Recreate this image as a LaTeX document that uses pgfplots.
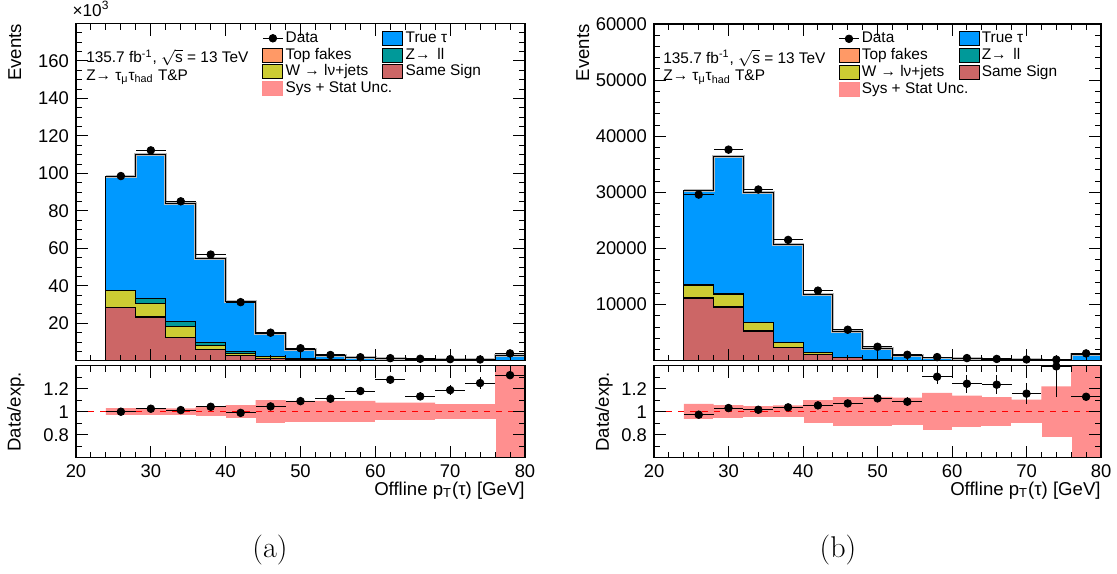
\documentclass[border=0pt]{standalone}
\usepackage{fontspec}
\usepackage{pgfplots}
\usepackage{pgfplotstable}
\pgfplotsset{compat=1.18}
\newfontfamily\hv{Liberation Sans}
\newcommand\tickfont{\hv\fontsize{9.2}{11}\selectfont}
\newcommand\labfont{\hv\fontsize{9.3}{11}\selectfont}
\newcommand\legfont{\hv\fontsize{7.7}{9}\selectfont}
\definecolor{ctau}{HTML}{0099FF}
\definecolor{ctop}{HTML}{FF9966}
\definecolor{cw}{HTML}{CCCC33}
\definecolor{cz}{HTML}{009999}
\definecolor{css}{HTML}{CC6666}
\definecolor{cband}{HTML}{FF8F8F}

% (a) cumulative stack tops, x10^3 events: ss, +top fakes, +W, +Z->ll, +true tau
\pgfplotstableread{
x  ss    tf    w     z     tot
24 28.4  28.7  37.3  37.6  98.3
28 23.1  23.4  30.8  33.4  110.0
32 12.4  12.6  18.5  21.2  83.9
36 6.0   6.15  8.4   9.8   54.4
40 2.8   2.9   3.9   4.8   31.6
44 1.4   1.45  2.1   2.4   14.6
48 0.7   0.73  1.0   1.2   6.2
52 0.35  0.37  0.5   0.6   2.8
56 0.2   0.21  0.3   0.35  1.6
60 0.12  0.13  0.2   0.25  1.1
64 0.08  0.09  0.15  0.18  0.95
68 0.05  0.06  0.1   0.12  0.75
72 0.04  0.05  0.08  0.1   0.58
76 0.2   0.22  0.3   0.35  3.0
80 0.2   0.22  0.3   0.35  3.0
}\stackA
\pgfplotstableread{
x  d
26 98.6
30 112.3
34 85.1
38 56.7
42 31.3
46 15.0
50 6.7
54 3.1
58 1.9
62 1.4
66 1.08
70 0.89
74 0.72
78 3.95
}\dataA
\pgfplotstableread{
x  r      e
26 1.000  0.005
30 1.026  0.005
34 1.014  0.006
38 1.043  0.008
42 0.990  0.010
46 1.046  0.015
50 1.092  0.020
54 1.113  0.025
58 1.180  0.030
62 1.278  0.035
66 1.133  0.035
70 1.188  0.040
74 1.249  0.050
78 1.318  0.025
}\ratioA
\pgfplotstableread{
x  up     dn
24 1.032  0.968
28 1.030  0.970
32 1.030  0.970
36 1.040  0.960
40 1.058  0.942
44 1.100  0.900
48 1.094  0.906
52 1.095  0.905
56 1.094  0.906
60 1.078  0.922
64 1.078  0.922
68 1.065  0.935
72 1.065  0.935
76 1.600  0.400
80 1.600  0.400
}\bandA

% (b)
\pgfplotstableread{
x  ss     tf     w      z      tot
24 11134  11230  13463  13550  30400
28 9582   9660   11851  11920  36448
32 5284   5330   6836   6880   30000
36 2418   2440   3313   3340   20746
40 1045   1055   1522   1540   11851
44 507    512    627    640    5164
48 209    212    260    270    2239
52 100    102    130    135    985
56 60     61     80     85     507
60 40     41     55     58     388
64 30     31     40     42     269
68 20     21     30     32     209
72 15     16     22     24     149
76 60     62     80     85     1164
80 60     62     80     85     1164
}\stackB
\pgfplotstableread{
x  d
26 29610
30 37614
34 30510
38 21534
42 12503
46 5536
50 2499
54 1071
58 661
62 482
66 332
70 242
74 208
78 1315
}\dataB
\pgfplotstableread{
x  r      e
26 0.974  0.008
30 1.032  0.007
34 1.017  0.008
38 1.038  0.010
42 1.055  0.012
46 1.072  0.020
50 1.116  0.030
54 1.087  0.040
58 1.304  0.060
62 1.243  0.077
66 1.235  0.080
70 1.157  0.090
74 1.394  0.270
78 1.130  0.030
}\ratioB
\pgfplotstableread{
x  up     dn
24 1.068  0.932
28 1.058  0.942
32 1.048  0.952
36 1.054  0.946
40 1.100  0.900
44 1.127  0.873
48 1.130  0.870
52 1.123  0.877
56 1.164  0.836
60 1.140  0.860
64 1.126  0.874
68 1.106  0.894
72 1.220  0.780
76 1.600  0.400
80 1.600  0.400
}\bandB

\pgfplotsset{
  rootaxis/.style={scale only axis, axis on top, axis line style={black,line width=0.6pt},
    tick align=inside, major tick length=6pt, minor tick length=3pt,
    every tick/.style={black,line width=0.5pt},
    xmin=20, xmax=80, xtick={20,30,...,80}, minor x tick num=4,
    tick label style={font=\tickfont}, label style={font=\labfont},
    scaled ticks=false},
  boxleg/.style={legend image code/.code={\draw[line width=0.5pt,##1] (0pt,-3.5pt) rectangle (10pt,3.5pt);}},
  fillst/.style={const plot, fill=#1, draw=black, line width=0.5pt, forget plot},
  datamain/.style={only marks, mark=*, mark size=1.9pt, black, forget plot,
    error bars/.cd, x dir=both, x fixed=2, error mark=none, error bar style={line width=0.5pt,black}},
  dataratio/.style={only marks, mark=*, mark size=1.9pt, black, forget plot,
    error bars/.cd, x dir=both, x fixed=2, y dir=both, y explicit, error mark=none, error bar style={line width=0.5pt,black}},
  mylegend/.style={legend columns=2, legend cell align=left,
    legend style={at={(#1,0.981)}, anchor=north west, draw=none, fill=none, inner sep=0pt, font=\legfont,
      nodes={inner xsep=0.8pt, inner ysep=0.4pt, text height=5.6pt, text depth=1.6pt},
      /tikz/every odd column/.append style={column sep=0.3pt},
      /tikz/every even column/.append style={column sep=5.6pt},
      row sep=0.4pt}},
}
\newcommand\legendentries{%
  \addlegendimage{legend image code/.code={\draw[black,line width=0.6pt] (0pt,0pt) -- (10pt,0pt); \fill[black] (5pt,0pt) circle (1.9pt);}}
  \addlegendentry{\makebox[42pt][l]{Data}}
  \addlegendimage{boxleg, fill=ctau, draw=black}
  \addlegendentry{True τ}
  \addlegendimage{boxleg, fill=ctop, draw=black}
  \addlegendentry{\makebox[42pt][l]{Top fakes}}
  \addlegendimage{boxleg, fill=cz, draw=black}
  \addlegendentry{Z→ \,ll}
  \addlegendimage{boxleg, fill=cw, draw=black}
  \addlegendentry{\makebox[42pt][l]{W → lν+jets}}
  \addlegendimage{boxleg, fill=css, draw=black}
  \addlegendentry{Same Sign}
  \addlegendimage{boxleg, fill=cband, draw=red!45}
  \addlegendentry{\makebox[42pt][l]{Sys + Stat Unc.}}
}

\begin{document}
\begin{tikzpicture}
\path[use as bounding box] (0,0) rectangle (558.5pt,-286.5pt);

%================ (a) main
\begin{axis}[rootaxis, at={(38pt,-11.75pt)}, anchor=north west, width=224.5pt, height=168.65pt,
  ymin=0, ymax=180, ytick={0,20,...,180}, yticklabels={,20,40,60,80,100,120,140,160,}, minor y tick num=3,
  xticklabels={},
  ylabel={Events}, ylabel style={at={(axis description cs:-0.136,1)}, anchor=east, inner sep=0pt},
  mylegend=0.414]
\legendentries
\addplot[fillst=ctau] table[x=x,y=tot]{\stackA} \closedcycle;
\addplot[const plot, gray!55, line width=1.4pt, forget plot] table[x=x,y=tot]{\stackA};
\addplot[const plot, black, line width=0.5pt, forget plot] table[x=x,y=tot]{\stackA};
\addplot[fillst=cz] table[x=x,y=z]{\stackA} \closedcycle;
\addplot[fillst=cw] table[x=x,y=w]{\stackA} \closedcycle;
\addplot[fillst=ctop] table[x=x,y=tf]{\stackA} \closedcycle;
\addplot[fillst=css] table[x=x,y=ss]{\stackA} \closedcycle;
\addplot[datamain] table[x=x,y=d]{\dataA};
\node[anchor=base west, inner sep=0pt, font=\legfont] at (axis description cs:0.022,0.8835) {135.7 fb\textsuperscript{-1}, $\sqrt{\mbox{s}}$ = 13 TeV};
\node[anchor=base west, inner sep=0pt, font=\legfont] at (axis description cs:0.022,0.831) {Z→ τ\textsubscript{μ}τ\textsubscript{had} T\&P};
\end{axis}
\node[anchor=base west, inner sep=0pt, font=\hv\fontsize{8.6}{10}\selectfont] at (36.1pt,-8.4pt) {×10\textsuperscript{3}};

%================ (a) ratio
\begin{axis}[rootaxis, at={(38pt,-182.85pt)}, anchor=north west, width=224.5pt, height=46pt,
  ymin=0.6, ymax=1.4, ytick={0.6,0.8,1,1.2,1.4}, yticklabels={,0.8,1,1.2,}, minor y tick num=1,
  xticklabels={20,30,40,50,60,70,80},
  xlabel={Offline p\textsubscript{T}(τ) [GeV]},
  xlabel style={at={(axis description cs:1,0)}, anchor=base east, yshift=-18.65pt, inner sep=0pt},
  ylabel={Data/exp.}, ylabel style={at={(axis description cs:-0.134,0.5)}, anchor=center}]
\addplot[const plot, fill=cband, draw=none, forget plot] table[x=x,y=up]{\bandA} \closedcycle;
\addplot[const plot, fill=white, draw=white, line width=0.5pt, forget plot] table[x=x,y=dn]{\bandA} \closedcycle;
\addplot[red, dash pattern=on 3pt off 3pt, line width=0.6pt, forget plot] coordinates {(20,1) (80,1)};
\addplot[dataratio] table[x=x,y=r,y error=e]{\ratioA};
\end{axis}

%================ (b) main
\begin{axis}[rootaxis, at={(327pt,-12pt)}, anchor=north west, width=223.5pt, height=168.4pt,
  ymin=0, ymax=60000, ytick={0,10000,...,60000}, yticklabels={,10000,20000,30000,40000,50000,60000}, minor y tick num=4,
  xticklabels={},
  ylabel={Events}, ylabel style={at={(axis description cs:-0.159,1)}, anchor=east, inner sep=0pt},
  mylegend=0.4116]
\legendentries
\addplot[fillst=ctau] table[x=x,y=tot]{\stackB} \closedcycle;
\addplot[const plot, gray!55, line width=1.4pt, forget plot] table[x=x,y=tot]{\stackB};
\addplot[const plot, black, line width=0.5pt, forget plot] table[x=x,y=tot]{\stackB};
\addplot[fillst=cz] table[x=x,y=z]{\stackB} \closedcycle;
\addplot[fillst=cw] table[x=x,y=w]{\stackB} \closedcycle;
\addplot[fillst=ctop] table[x=x,y=tf]{\stackB} \closedcycle;
\addplot[fillst=css] table[x=x,y=ss]{\stackB} \closedcycle;
\addplot[datamain] table[x=x,y=d]{\dataB};
\node[anchor=base west, inner sep=0pt, font=\legfont] at (axis description cs:0.020,0.8835) {135.7 fb\textsuperscript{-1}, $\sqrt{\mbox{s}}$ = 13 TeV};
\node[anchor=base west, inner sep=0pt, font=\legfont] at (axis description cs:0.020,0.831) {Z→ τ\textsubscript{μ}τ\textsubscript{had} T\&P};
\end{axis}

%================ (b) ratio
\begin{axis}[rootaxis, at={(327pt,-182.85pt)}, anchor=north west, width=223.5pt, height=46pt,
  ymin=0.6, ymax=1.4, ytick={0.6,0.8,1,1.2,1.4}, yticklabels={,0.8,1,1.2,}, minor y tick num=1,
  xticklabels={20,30,40,50,60,70,80},
  xlabel={Offline p\textsubscript{T}(τ) [GeV]},
  xlabel style={at={(axis description cs:1,0)}, anchor=base east, yshift=-18.65pt, inner sep=0pt},
  ylabel={Data/exp.}, ylabel style={at={(axis description cs:-0.112,0.5)}, anchor=center}]
\addplot[const plot, fill=cband, draw=none, forget plot] table[x=x,y=up]{\bandB} \closedcycle;
\addplot[const plot, fill=white, draw=white, line width=0.5pt, forget plot] table[x=x,y=dn]{\bandB} \closedcycle;
\addplot[red, dash pattern=on 3pt off 3pt, line width=0.6pt, forget plot] coordinates {(20,1) (80,1)};
\addplot[dataratio] table[x=x,y=r,y error=e]{\ratioB};
\end{axis}

\node[font=\fontsize{15}{18}\selectfont] at (135pt,-275pt) {(a)};
\node[font=\fontsize{15}{18}\selectfont] at (419pt,-275pt) {(b)};
\end{tikzpicture}
\end{document}
